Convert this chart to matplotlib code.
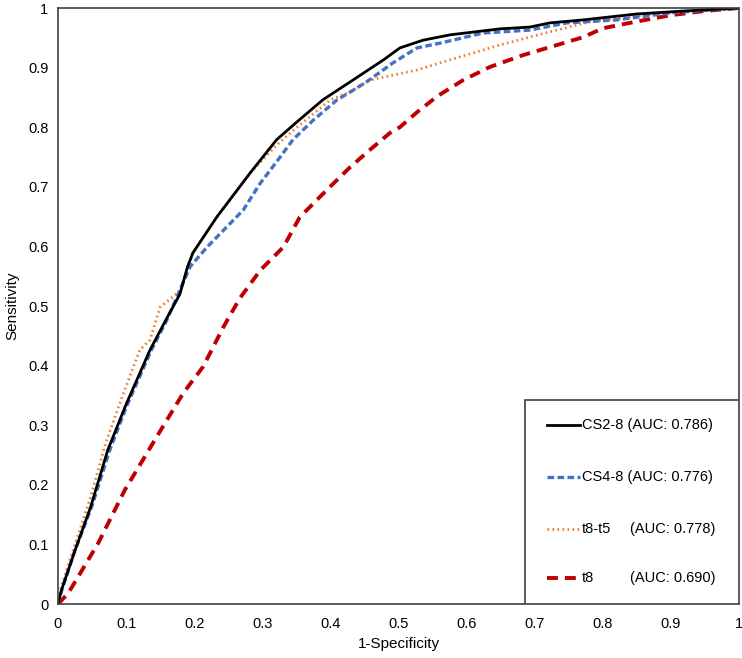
import matplotlib
matplotlib.use("Agg")
import matplotlib.pyplot as plt
from matplotlib.patches import Rectangle

plt.rcParams['font.family'] = ['Liberation Sans', 'DejaVu Sans']

# ROC points (1-specificity, sensitivity)
cs28_x = [0, 0.005, 0.025, 0.048, 0.073, 0.1, 0.135, 0.16, 0.179, 0.19, 0.198, 0.233, 0.282,
          0.321, 0.351, 0.389, 0.429, 0.478, 0.502, 0.536, 0.576, 0.649, 0.693, 0.722,
          0.771, 0.85, 0.92, 1.0]
cs28_y = [0, 0.023, 0.09, 0.163, 0.258, 0.335, 0.426, 0.48, 0.52, 0.565, 0.589, 0.649, 0.723,
          0.779, 0.809, 0.846, 0.876, 0.913, 0.933, 0.946, 0.955, 0.965, 0.968, 0.975,
          0.98, 0.99, 0.995, 1.0]

cs48_x = [0, 0.006, 0.025, 0.05, 0.075, 0.1, 0.137, 0.16, 0.194, 0.219, 0.272, 0.297,
          0.321, 0.345, 0.375, 0.41, 0.429, 0.453, 0.492, 0.527, 0.561, 0.624, 0.693,
          0.747, 0.82, 0.9, 1.0]
cs48_y = [0, 0.025, 0.09, 0.165, 0.255, 0.33, 0.426, 0.477, 0.566, 0.599, 0.661, 0.706,
          0.742, 0.779, 0.812, 0.846, 0.859, 0.876, 0.908, 0.933, 0.941, 0.958, 0.963,
          0.975, 0.98, 0.992, 1.0]

t8t5_x = [0, 0.005, 0.025, 0.048, 0.07, 0.095, 0.12, 0.135, 0.15, 0.179, 0.198, 0.233,
          0.282, 0.321, 0.351, 0.4, 0.429, 0.458, 0.527, 0.59, 0.649, 0.722, 0.781,
          0.86, 0.93, 1.0]
t8t5_y = [0, 0.03, 0.1, 0.18, 0.27, 0.35, 0.426, 0.443, 0.498, 0.525, 0.589, 0.649,
          0.723, 0.77, 0.8, 0.846, 0.859, 0.879, 0.896, 0.918, 0.938, 0.96, 0.977,
          0.988, 0.995, 1.0]

t8_x = [0, 0.015, 0.059, 0.098, 0.151, 0.184, 0.213, 0.243, 0.267, 0.297, 0.331, 0.355,
        0.395, 0.429, 0.458, 0.487, 0.502, 0.527, 0.557, 0.595, 0.634, 0.683, 0.733,
        0.771, 0.8, 0.844, 0.9, 0.95, 1.0]
t8_y = [0, 0.018, 0.102, 0.191, 0.292, 0.354, 0.398, 0.465, 0.513, 0.56, 0.599, 0.649,
        0.695, 0.733, 0.762, 0.79, 0.8, 0.825, 0.852, 0.879, 0.901, 0.921, 0.938,
        0.951, 0.966, 0.976, 0.988, 0.995, 1.0]

names = ['CS2-8', 'CS4-8', 't8-t5', 't8']
aucs = ['0.786', '0.776', '0.778', '0.690']
ticks = [0, 0.1, 0.2, 0.3, 0.4, 0.5, 0.6, 0.7, 0.8, 0.9, 1]
tick_labels = ['0', '0.1', '0.2', '0.3', '0.4', '0.5', '0.6', '0.7', '0.8', '0.9', '1']

styles = [
    dict(color='black', lw=2.0, ls='-'),
    dict(color='#4472C4', lw=2.4, ls=(0, (2.0, 1.0))),
    dict(color='#ED7D31', lw=2.0, ls=(0, (0.6, 1.2))),
    dict(color='#C00000', lw=2.8, ls=(0, (2.8, 1.8))),
]

fig = plt.figure(figsize=(7.42, 6.58), dpi=100)
ax = fig.add_axes([58 / 742, 54 / 658, 681 / 742, 596 / 658])

series = [(cs28_x, cs28_y), (cs48_x, cs48_y), (t8t5_x, t8t5_y), (t8_x, t8_y)]
# red first so the others sit on top, like the reference
for i in [3, 2, 1, 0]:
    x, y = series[i]
    ax.plot(x, y, **styles[i])

ax.set_xlim(0, 1)
ax.set_ylim(0, 1)
ax.set_xticks(ticks)
ax.set_xticklabels(tick_labels)
ax.set_yticks(ticks)
ax.set_yticklabels(tick_labels)
ax.tick_params(length=0, labelsize=10.5)
ax.tick_params(axis='x', pad=9)
ax.tick_params(axis='y', pad=7)
for s in ax.spines.values():
    s.set_color('#404040')
    s.set_linewidth(1.2)
ax.set_xlabel('1-Specificity', fontsize=11, labelpad=5)
ax.set_ylabel('Sensitivity', fontsize=11, labelpad=6)

# hand-made legend box in the lower right corner
ax.add_patch(Rectangle((0.686, 0), 0.314, 0.342, transform=ax.transAxes,
                       facecolor='white', edgecolor='#404040', lw=1.2, zorder=5))
rows = [0.300, 0.213, 0.126, 0.044]
for i in range(4):
    yy = rows[i]
    ax.plot([0.718, 0.767], [yy, yy], transform=ax.transAxes, zorder=6,
            **styles[i])
    if i < 2:
        ax.text(0.769, yy, f'{names[i]} (AUC: {aucs[i]})', transform=ax.transAxes,
                va='center', ha='left', fontsize=10.5, zorder=7)
    else:
        ax.text(0.769, yy, names[i], transform=ax.transAxes,
                va='center', ha='left', fontsize=10.5, zorder=7)
        ax.text(0.840, yy, f'(AUC: {aucs[i]})', transform=ax.transAxes,
                va='center', ha='left', fontsize=10.5, zorder=7)

fig.savefig('out.png', dpi=100, facecolor='white')
